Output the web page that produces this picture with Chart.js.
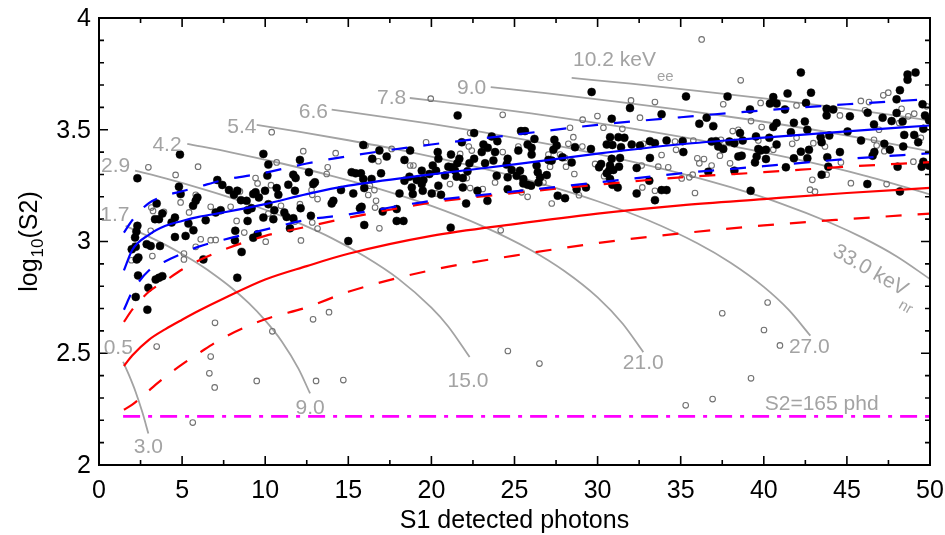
<!DOCTYPE html>
<html>
<head>
<meta charset="utf-8">
<script src="https://cdn.jsdelivr.net/npm/chart.js@4.4.1/dist/chart.umd.min.js"></script>
<style>
  html, body { margin: 0; padding: 0; background: #fff; }
</style>
</head>
<body>
<canvas id="myChart" width="945" height="535"></canvas>
<script>
// ---- data ----
const xTicks = [0, 5, 10, 15, 20, 25, 30, 35, 40, 45, 50];
const yTicks = [2, 2.5, 3, 3.5, 4];

// band S1 grid
const bandS1 = [1.5, 2, 3, 4, 5, 6, 7.5, 10, 12.5, 15, 20, 25, 30, 35, 40, 45, 50];
const erMedian = [2.871, 2.962, 3.03, 3.07, 3.092, 3.11, 3.13, 3.167, 3.212, 3.25, 3.30, 3.345, 3.393, 3.435, 3.465, 3.493, 3.519];
const erHigh   = [3.04, 3.095, 3.172, 3.205, 3.225, 3.245, 3.275, 3.308, 3.349, 3.382, 3.434, 3.478, 3.522, 3.556, 3.587, 3.614, 3.637];
const erLow    = [2.695, 2.775, 2.87, 2.912, 2.946, 2.977, 3.008, 3.053, 3.097, 3.121, 3.182, 3.224, 3.264, 3.305, 3.337, 3.369, 3.395];
const nrMedian = [2.443, 2.49, 2.56, 2.608, 2.65, 2.69, 2.745, 2.83, 2.89, 2.945, 3.025, 3.078, 3.125, 3.162, 3.19, 3.217, 3.24];
const nrHigh   = [2.64, 2.695, 2.775, 2.825, 2.875, 2.915, 2.963, 3.025, 3.066, 3.106, 3.174, 3.217, 3.254, 3.287, 3.31, 3.335, 3.355];
const nrLow    = [2.247, 2.27, 2.333, 2.395, 2.45, 2.5, 2.57, 2.652, 2.705, 2.775, 2.872, 2.937, 2.993, 3.036, 3.072, 3.1, 3.125];

// energy contours (S1, log10 S2)
const c05S1  = [1.45, 1.8, 2.2, 2.6, 2.97];
const c05S2  = [2.462, 2.403, 2.328, 2.238, 2.141];
const c17S1  = [1.6, 3, 4, 5, 6, 7, 8, 9, 10, 11, 12, 12.7];
const c17S2  = [3.070, 3.022, 2.985, 2.944, 2.899, 2.848, 2.791, 2.725, 2.647, 2.553, 2.431, 2.320];
const c29S1  = [2.17, 4, 6, 8, 10, 12, 14, 16, 18, 20, 21, 22.3];
const c29S2  = [3.317, 3.282, 3.240, 3.194, 3.142, 3.083, 3.015, 2.933, 2.834, 2.704, 2.621, 2.483];
const c42S1  = [5.31, 8, 11, 14, 17, 20, 23, 26, 28, 30, 31.5, 32.75];
const c42S2  = [3.437, 3.398, 3.349, 3.294, 3.232, 3.159, 3.071, 2.961, 2.868, 2.750, 2.633, 2.505];
const c54S1  = [9.49, 12, 15, 18, 21, 24, 27, 30, 33, 36, 38, 40, 41.5, 42.8];
const c54S2  = [3.522, 3.492, 3.453, 3.411, 3.363, 3.310, 3.250, 3.180, 3.096, 2.992, 2.905, 2.797, 2.694, 2.579];
const c66S1  = [14, 17, 20, 23, 26, 29, 32, 35, 38, 41, 44, 46, 48, 50];
const c66S2  = [3.590, 3.559, 3.526, 3.490, 3.450, 3.407, 3.359, 3.305, 3.243, 3.171, 3.084, 3.015, 2.933, 2.832];
const c78S1  = [18.7, 22, 26, 30, 34, 38, 42, 46, 50];
const c78S2  = [3.642, 3.612, 3.573, 3.530, 3.482, 3.428, 3.367, 3.296, 3.211];
const c90S1  = [23.57, 27, 31, 35, 39, 43, 47, 50];
const c90S2  = [3.691, 3.663, 3.627, 3.589, 3.547, 3.500, 3.447, 3.403];
const c102S1 = [28.44, 32, 36, 40, 44, 48, 50];
const c102S2 = [3.732, 3.706, 3.674, 3.640, 3.603, 3.563, 3.541];

const thresholdS2 = 165;        // phd
const thresholdS1 = [1.45, 50];

// events (filled)
const evtS1 = [
  4.87,2.31,7.12,7.42,4.81,7.82,8.12,8.32,4.91,5.92,5.82,5.66,3.47,7.32,7.02,3.81,3.61,3.37,4.57,4.37,6.42,5.38,5.68,8.2,2.31,2.25,2.17,4.57,5.21,2.87,3.11,3.67,1.97,2.21,2.37,2.27,8.18,6.28,2.35,3.41,3.61,3.81,2.97,2.21,2.91,8.32,
  9.89,10.19,10.13,12.09,12.63,11.69,11.83,12.99,12.89,11.39,11.79,10.69,9.99,9.42,9.28,8.54,8.88,9.62,10.79,10.19,9.18,8.94,10.55,11.15,11.29,9.89,10.49,11.69,12.13,8.94,12.75,11.49,9.54,9.28,8.58,15.0,14.56,15.3,14.10,14.0,15.2,15.44,15.76,15.9,15.96,15.8,15.7,15.96,15.9,16.44,16.4,
  21.58,22.57,21.83,23.63,23.97,23.13,23.39,23.03,23.83,18.72,16.87,17.31,18.38,20.38,20.42,21.18,21.68,21.56,21.22,22.29,22.57,23.23,23.73,16.97,19.42,20.08,20.28,21.02,21.42,21.52,21.89,22.17,20.82,18.68,18.38,19.12,19.52,19.88,18.82,19.42,19.48,20.42,20.02,18.08,18.88,20.58,23.93,22.77,23.37,21.89,22.09,17.91,17.07,17.91,18.32,21.16,
  29.64,31.95,30.85,25.39,25.63,26.2,27.4,25.79,26.03,25.23,27.54,27.34,28.64,29.6,30.75,31.25,31.61,30.55,30.89,31.41,32.05,32.55,26.03,27.88,27.04,27.24,24.59,24.53,24.83,25.33,26.33,26.4,26.54,26.94,25.13,25.53,24.59,25.53,25.79,26.0,26.44,24.59,28.44,30.21,30.09,30.75,30.85,31.35,31.29,30.69,30.95,30.55,30.75,30.89,31.21,29.3,28.74,32.35,32.35,27.6,28.04,
  35.32,37.82,40.57,40.37,39.17,33.85,36.56,36.12,36.96,40.57,38.57,39.53,33.15,33.45,34.15,35.12,36.86,37.12,37.93,38.23,38.73,37.26,37.56,40.33,35.16,39.67,39.81,40.13,33.15,38.67,38.47,39.57,40.13,39.47,38.23,36.66,33.11,33.85,34.15,33.45,39.21,
  42.23,48.65,49.13,48.65,42.84,41.43,48.19,40.77,42.54,43.78,44.18,41.27,47.99,49.55,46.25,47.99,43.78,45.18,47.15,47.69,48.35,49.7,49.94,40.77,41.81,42.47,46.63,42.62,41.63,49.6,45.04,48.45,49.05,43.42,43.94,43.48,45.85,49.29,40.77,47.25,47.59,48.39,42.23,42.72,44.58,46.65,46.55,41.81,42.62,43.82,43.88,41.33,48.05,49.5,49.6,49.94,43.48,46.23,48.19
];
const evtLogS2 = [
  3.389,3.283,3.275,3.253,3.245,3.23,3.209,3.227,3.212,3.197,3.182,3.16,3.17,3.14,3.13,3.125,3.10,3.10,3.107,3.085,3.095,3.08,3.05,3.048,3.07,3.045,3.018,3.02,3.025,2.988,2.98,2.98,2.965,2.976,2.928,2.92,3.005,2.92,2.848,2.83,2.838,2.845,2.793,2.752,2.695,2.838,
  3.392,3.344,3.295,3.365,3.31,3.299,3.284,3.265,3.257,3.254,3.227,3.239,3.227,3.22,3.212,3.185,3.182,3.197,3.209,3.167,3.149,3.14,3.14,3.13,3.11,3.107,3.10,3.104,3.149,3.092,3.115,3.059,3.032,3.017,2.953,3.002,3.23,3.215,3.182,3.17,3.31,3.305,3.305,3.28,3.239,3.155,3.149,3.074,3.432,3.37,3.28,
  3.564,3.485,3.444,3.47,3.449,3.434,3.419,3.40,3.40,3.407,3.407,3.38,3.365,3.40,3.37,3.389,3.37,3.35,3.332,3.35,3.37,3.35,3.362,3.305,3.317,3.34,3.317,3.335,3.317,3.29,3.284,3.314,3.295,3.29,3.272,3.275,3.275,3.302,3.242,3.257,3.227,3.25,3.215,3.215,3.212,3.209,3.294,3.227,3.182,3.242,3.17,3.145,3.134,3.092,3.092,3.062,
  3.669,3.597,3.549,3.494,3.494,3.459,3.455,3.434,3.419,3.407,3.429,3.41,3.422,3.414,3.467,3.467,3.464,3.434,3.432,3.422,3.434,3.429,3.389,3.377,3.365,3.362,3.37,3.344,3.32,3.317,3.34,3.31,3.287,3.297,3.294,3.28,3.287,3.26,3.254,3.25,3.264,3.234,3.354,3.347,3.332,3.34,3.37,3.374,3.335,3.317,3.32,3.305,3.28,3.254,3.242,3.242,3.234,3.329,3.215,3.205,3.194,
  3.649,3.649,3.646,3.617,3.591,3.569,3.554,3.527,3.516,3.512,3.485,3.47,3.449,3.44,3.452,3.449,3.447,3.449,3.447,3.44,3.452,3.425,3.414,3.464,3.40,3.414,3.407,3.41,3.374,3.384,3.38,3.38,3.369,3.354,3.317,3.312,3.272,3.23,3.23,3.185,3.227,
  3.756,3.747,3.756,3.724,3.666,3.662,3.677,3.617,3.62,3.594,3.591,3.591,3.636,3.614,3.576,3.575,3.564,3.56,3.554,3.539,3.537,3.564,3.542,3.53,3.531,3.537,3.524,3.50,3.489,3.504,3.492,3.477,3.477,3.467,3.474,3.444,3.452,3.444,3.434,3.437,3.411,3.425,3.402,3.41,3.40,3.40,3.384,3.372,3.372,3.377,3.335,3.332,3.335,3.335,3.357,3.339,3.299,3.257,3.224
];

// removed events (open)
const cutS1 = [
  2.97,4.61,5.96,5.82,4.91,3.15,3.25,3.91,5.42,6.72,7.92,8.28,3.11,6.12,6.72,7.02,5.82,2.15,5.11,5.11,3.21,1.95,6.98,
  10.39,12.29,10.69,13.76,14.24,13.7,9.42,9.54,10.35,12.79,13.15,12.83,10.95,12.09,10.19,11.79,12.83,13.15,10.03,12.15,8.74,8.48,16.2,16.3,16.04,
  19.96,24.29,22.33,19.68,17.61,22.25,22.43,21.73,24.29,16.81,18.72,18.92,22.13,23.83,22.33,23.09,21.12,20.28,16.57,16.67,16.61,16.87,24.17,
  32.01,29.1,29.99,30.35,31.49,32.55,28.34,28.54,28.24,29.08,25.23,27.04,27.74,28.04,27.14,28.1,28.6,29.85,30.39,32.65,25.43,25.79,27.24,28.88,26.74,32.69,
  36.26,38.61,33.45,37.56,39.81,39.23,38.13,38.47,39.87,32.75,34.66,35.76,34.72,33.85,37.42,37.36,39.67,40.57,36.0,36.4,36.12,33.65,34.25,36.86,37.97,35.72,35.52,35.06,33.45,35.86,
  45.84,46.33,47.19,47.49,41.97,44.58,46.09,48.29,48.15,48.69,49.05,49.8,46.93,41.97,41.71,42.98,43.68,46.63,46.79,47.25,49.45,44.64,49.0,43.78,42.92,42.78,43.08,45.24,47.39,
  3.47,6.72,6.64,6.96,9.49,10.43,13.06,5.64,12.88,13.84,40.23,37.5,40.01,40.97,39.23,36.92,35.3,24.6,26.5,14.7
];
const cutLogS2 = [
  3.332,3.298,3.335,3.209,3.175,3.152,3.137,3.133,3.13,3.155,3.155,3.092,3.048,3.01,3.006,3.007,2.976,2.98,2.946,2.92,2.935,2.916,2.636,
  3.489,3.404,3.354,3.332,3.395,3.302,3.284,3.26,3.252,3.23,3.19,3.209,3.16,3.167,3.125,3.089,3.085,3.058,2.999,3.005,3.04,3.224,3.208,3.25,3.429,
  3.639,3.567,3.485,3.444,3.414,3.425,3.407,3.392,3.40,3.359,3.34,3.34,3.284,3.264,3.239,3.235,3.257,3.215,3.23,3.182,3.152,3.059,3.05,
  3.631,3.545,3.561,3.509,3.504,3.554,3.509,3.467,3.437,3.425,3.425,3.389,3.389,3.374,3.335,3.335,3.302,3.347,3.292,3.34,3.22,3.20,3.17,3.207,3.264,3.242,
  3.904,3.721,3.624,3.614,3.62,3.539,3.494,3.50,3.512,3.437,3.447,3.452,3.41,3.387,3.455,3.384,3.452,3.411,3.372,3.369,3.35,3.335,3.332,3.34,3.35,3.299,3.287,3.282,3.227,3.217,
  3.629,3.624,3.654,3.666,3.609,3.564,3.587,3.594,3.53,3.56,3.572,3.605,3.50,3.464,3.437,3.44,3.425,3.455,3.429,3.404,3.464,3.354,3.357,3.299,3.276,3.232,3.223,3.261,3.257,
  2.53,2.485,2.41,2.347,2.376,2.598,2.376,2.19,2.652,2.684,2.727,2.679,2.604,2.535,2.388,2.295,2.267,2.51,2.454,2.38
];

// contour label text
const eeLabels = ['0.5', '1.7', '2.9', '4.2', '5.4', '6.6', '7.8', '9.0'];
const nrLabels = ['3.0', '9.0', '15.0', '21.0', '27.0'];

// ---- helpers ----
const FONT = '"Liberation Sans", Arial, Helvetica, sans-serif';
const GREY = '#a3a3a3';
const pts = (xs, ys) => xs.map((x, i) => ({ x: x, y: ys[i] }));

function curve(xs, ys, color, dash, order) {
  return {
    data: pts(xs, ys),
    showLine: true,
    borderColor: color,
    borderWidth: color === GREY ? 1.8 : 2.2,
    borderDash: dash || [],
    pointRadius: 0,
    fill: false,
    cubicInterpolationMode: 'monotone',
    order: order
  };
}

const contours = [
  [c05S1, c05S2], [c17S1, c17S2], [c29S1, c29S2], [c42S1, c42S2], [c54S1, c54S2],
  [c66S1, c66S2], [c78S1, c78S2], [c90S1, c90S2], [c102S1, c102S2]
].map(c => curve(c[0], c[1], GREY, null, 60));

const threshY = Math.log10(thresholdS2);

const datasets = contours.concat([
  {
    data: thresholdS1.map(x => ({ x: x, y: threshY })),
    showLine: true, borderColor: '#ff00ff', borderWidth: 2.6,
    borderDash: [17, 8, 4, 8], pointRadius: 0, order: 55
  },
  {
    data: pts(cutS1, cutLogS2),
    pointRadius: 2.8, pointBorderWidth: 1.1,
    pointBackgroundColor: 'rgba(255,255,255,0)', pointBorderColor: '#707070',
    order: 40
  },
  {
    data: pts(evtS1, evtLogS2),
    pointRadius: 4, pointBorderWidth: 0.5,
    pointBackgroundColor: '#000', pointBorderColor: '#000',
    order: 30
  },
  curve(bandS1, nrLow, '#ff0000', [16, 16], 12),
  curve(bandS1, nrMedian, '#ff0000', null, 12),
  curve(bandS1, nrHigh, '#ff0000', [16, 16], 11),
  curve(bandS1, erLow, '#0000ff', [16, 16], 10),
  curve(bandS1, erMedian, '#0000ff', null, 10),
  curve(bandS1, erHigh, '#0000ff', [16, 16], 10)
]);

// text with a subscript, x is the left edge
function textSub(ctx, main, sub, x, y, size, subSize, subDy) {
  ctx.font = size + 'px ' + FONT;
  ctx.textAlign = 'left';
  ctx.fillText(main, x, y);
  const w = ctx.measureText(main).width;
  ctx.font = subSize + 'px ' + FONT;
  ctx.fillText(sub, x + w + 1, y + subDy);
  return w + 1 + ctx.measureText(sub).width;
}

const frame = {
  id: 'frame',
  afterDraw(chart) {
    const { ctx, chartArea: a } = chart;
    const sx = chart.scales.x, sy = chart.scales.y;
    const X = v => sx.getPixelForValue(v), Y = v => sy.getPixelForValue(v);
    ctx.save();

    // box and inward ticks
    ctx.strokeStyle = '#000';
    ctx.lineWidth = 2;
    ctx.strokeRect(a.left, a.top, a.right - a.left, a.bottom - a.top);
    ctx.lineWidth = 1.6;
    ctx.beginPath();
    for (let i = 0; i <= 20; i++) {
      const px = X(i * 2.5), len = i % 2 === 0 ? 9 : 5;
      ctx.moveTo(px, a.bottom); ctx.lineTo(px, a.bottom - len);
      ctx.moveTo(px, a.top); ctx.lineTo(px, a.top + len);
    }
    for (let i = 0; i <= 20; i++) {
      const py = Y(2 + i * 0.1), len = i % 5 === 0 ? 9 : 5;
      ctx.moveTo(a.left, py); ctx.lineTo(a.left + len, py);
      ctx.moveTo(a.right, py); ctx.lineTo(a.right - len, py);
    }
    ctx.stroke();

    // tick labels
    ctx.fillStyle = '#000';
    ctx.font = '25px ' + FONT;
    ctx.textAlign = 'center';
    ctx.textBaseline = 'middle';
    xTicks.forEach(v => ctx.fillText(String(v), X(v), a.bottom + 26));
    ctx.textAlign = 'right';
    yTicks.forEach(v => ctx.fillText(String(v), a.left - 8, Y(v) + 1));

    // axis titles
    ctx.textAlign = 'center';
    ctx.font = '25px ' + FONT;
    ctx.fillText('S1 detected photons', (a.left + a.right) / 2, a.bottom + 56);
    ctx.save();
    ctx.translate(30, (a.top + a.bottom) / 2);
    ctx.rotate(-Math.PI / 2);
    ctx.font = '25px ' + FONT;
    const w1 = ctx.measureText('log').width;
    ctx.font = '17px ' + FONT;
    const w2 = ctx.measureText('10').width;
    ctx.font = '25px ' + FONT;
    const w3 = ctx.measureText('(S2)').width;
    textSub(ctx, 'log', '10', -(w1 + w2 + w3 + 1) / 2, 0, 25, 17, 8);
    ctx.font = '25px ' + FONT;
    ctx.textAlign = 'left';
    ctx.fillText('(S2)', -(w1 + w2 + w3 + 1) / 2 + w1 + w2 + 1, 0);
    ctx.restore();

    // contour labels
    ctx.fillStyle = GREY;
    ctx.font = '21px ' + FONT;
    ctx.textAlign = 'center';
    ctx.textBaseline = 'middle';
    const eePos = [[1.16, 2.523], [0.96, 3.119], [1.0, 3.339], [4.09, 3.429], [8.6, 3.512], [12.9, 3.579], [17.61, 3.639], [22.42, 3.684]];
    eeLabels.forEach((t, i) => ctx.fillText(t, X(eePos[i][0]), Y(eePos[i][1])));
    const nrPos = [[2.97, 2.081], [12.7, 2.256], [22.2, 2.373], [32.75, 2.455], [42.74, 2.527]];
    nrLabels.forEach((t, i) => ctx.fillText(t, X(nrPos[i][0]), Y(nrPos[i][1])));
    ctx.fillText('S2=165 phd', X(43.48), Y(2.271));

    textSub(ctx, '10.2 keV', 'ee', X(28.52), Y(3.811), 21, 15, 17);

    ctx.save();
    ctx.translate(X(46.4), Y(2.87));
    ctx.rotate(30 * Math.PI / 180);
    ctx.font = '21px ' + FONT;
    const wm = ctx.measureText('33.0 keV').width;
    textSub(ctx, '33.0 keV', 'nr', -wm / 2, 0, 21, 15, 14);
    ctx.restore();

    ctx.restore();
  }
};

const chart = new Chart(document.getElementById('myChart').getContext('2d'), {
  type: 'scatter',
  data: { datasets: datasets },
  options: {
    responsive: false,
    animation: false,
    devicePixelRatio: 1,
    layout: { padding: { left: 99, right: 15, top: 18, bottom: 70 } },
    scales: {
      x: { type: 'linear', min: 0, max: 50, display: false },
      y: { type: 'linear', min: 2, max: 4, display: false }
    },
    plugins: { legend: { display: false }, tooltip: { enabled: false } }
  },
  plugins: [frame]
});
</script>
</body>
</html>
